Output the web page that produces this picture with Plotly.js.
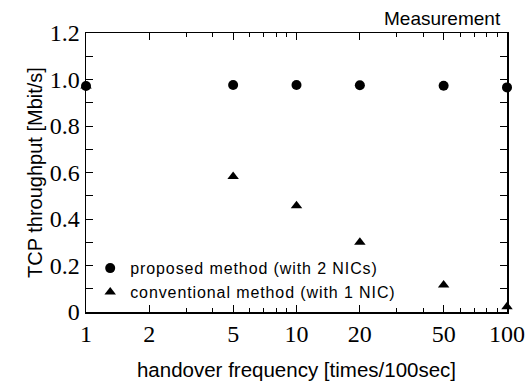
<!DOCTYPE html>
<html><head><meta charset="utf-8">
<script src="https://cdn.plot.ly/plotly-3.0.1.min.js"></script>
<style>html,body{margin:0;padding:0;background:#fff}#chart{width:531px;height:385px}
.legendtext{letter-spacing:0.9px}</style>
</head><body><div id="chart"></div>
<script>
const freq = [1, 5, 10, 20, 50, 100];
const proposed = [0.972, 0.976, 0.976, 0.975, 0.973, 0.966];
const convFreq = [1, 5, 10, 20, 50, 100];
const conventional = [0.972, 0.583, 0.457, 0.300, 0.116, 0.023];
const xTicks = [1, 2, 5, 10, 20, 50, 100];
const xMinor = [3, 4, 6, 7, 8, 9, 30, 40, 60, 70, 80, 90];
const yTicks = [0, 0.2, 0.4, 0.6, 0.8, 1.0, 1.2];
const yTickText = ["0", "0.2", "0.4", "0.6", "0.8", "1.0", "1.2"];
const legendNames = ["proposed method (with 2 NICs)", "conventional method (with 1 NIC)"];

const traces = [
  {x: freq, y: proposed, name: legendNames[0], mode: 'markers', type: 'scatter', cliponaxis: false,
   marker: {symbol: 'circle', size: 10, color: '#000'}},
  {x: convFreq, y: conventional, name: legendNames[1], mode: 'markers', type: 'scatter', cliponaxis: false,
   marker: {symbol: 'triangle-up', size: 10, color: '#000'}}
];
const layout = {
  width: 531, height: 385,
  margin: {l: 86, r: 24, t: 33, b: 73},
  paper_bgcolor: '#fff', plot_bgcolor: '#fff',
  showlegend: true,
  legend: {x: 0.01, y: 0.01, xanchor: 'left', yanchor: 'bottom', bgcolor: 'rgba(0,0,0,0)',
    font: {family: 'Liberation Sans, Arial, sans-serif', size: 16, color: '#000'},
    tracegroupgap: 0, itemwidth: 30},
  xaxis: {type: 'log', range: [0, 2], tickmode: 'array', tickvals: xTicks, ticktext: xTicks.map(String),
    ticks: 'inside', ticklen: 7, tickwidth: 1, tickcolor: '#000', showline: true, linecolor: '#000', linewidth: 1.5,
    mirror: 'ticks', showgrid: false, zeroline: false,
    minor: {tickmode: 'array', tickvals: xMinor, ticks: 'inside', ticklen: 4, tickcolor: '#000', showgrid: false},
    tickfont: {family: 'Liberation Serif, Times New Roman, serif', size: 24, color: '#000'},
    title: {text: 'handover frequency [times/100sec]', standoff: 16,
      font: {family: 'Liberation Sans, Arial, sans-serif', size: 20.5, color: '#000'}}},
  yaxis: {range: [0, 1.2], tickmode: 'array', tickvals: yTicks, ticktext: yTickText,
    ticks: 'inside', ticklen: 7, tickwidth: 1, tickcolor: '#000', showline: true, linecolor: '#000', linewidth: 1.5,
    mirror: 'ticks', showgrid: false, zeroline: false,
    minor: {tickmode: 'array', tickvals: [0.1, 0.3, 0.5, 0.7, 0.9, 1.1], ticks: 'inside', ticklen: 7, tickcolor: '#000', showgrid: false},
    tickfont: {family: 'Liberation Serif, Times New Roman, serif', size: 24, color: '#000'},
    title: {text: 'TCP throughput [Mbit/s]', standoff: 1,
      font: {family: 'Liberation Sans, Arial, sans-serif', size: 20, color: '#000'}}},
  annotations: [{text: 'Measurement', xref: 'paper', yref: 'paper', x: 1, y: 1, xanchor: 'right', yanchor: 'bottom',
    xshift: -4, yshift: 2, showarrow: false, font: {family: 'Liberation Sans, Arial, sans-serif', size: 19, color: '#000'}}]
};
Plotly.newPlot('chart', traces, layout, {displayModeBar: false, staticPlot: true});
</script>
</body></html>
